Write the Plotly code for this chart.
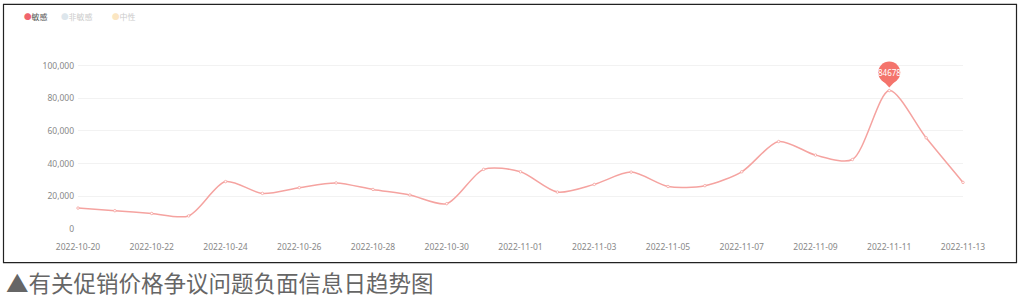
import plotly.graph_objects as go

dates = ["2022-10-20", "2022-10-21", "2022-10-22", "2022-10-23", "2022-10-24",
         "2022-10-25", "2022-10-26", "2022-10-27", "2022-10-28", "2022-10-29",
         "2022-10-30", "2022-10-31", "2022-11-01", "2022-11-02", "2022-11-03",
         "2022-11-04", "2022-11-05", "2022-11-06", "2022-11-07", "2022-11-08",
         "2022-11-09", "2022-11-10", "2022-11-11", "2022-11-12", "2022-11-13"]
sensitive = [12800, 11200, 9500, 8000, 29000,
             21800, 25300, 28200, 24200, 20800,
             15500, 36500, 35000, 22600, 27300,
             34800, 26000, 26500, 35000, 53500,
             45200, 42500, 84678, 55800, 28500]
legend_names = ["敏感", "非敏感", "中性"]
legend_colors = ["#f0646e", "#dde6ec", "#fbe6c2"]
legend_text_colors = ["#555555", "#cccccc", "#cccccc"]
caption = "▲有关促销价格争议问题负面信息日趋势图"

W, H = 1024, 298
L, R = 78, 61
PLOT_BOTTOM = 229
Y_TOP_VAL = 104000
PX_PER_100K = 163.3
plot_h = PX_PER_100K * Y_TOP_VAL / 100000
T = PLOT_BOTTOM - plot_h
B = H - PLOT_BOTTOM
plot_w = W - L - R

def px_x(px):
    return (px - L) / plot_w

def px_y(py):
    return (PLOT_BOTTOM - py) / plot_h

line_color = "#f5a3a0"
pin_color = "#f4746c"

fig = go.Figure()
fig.add_trace(go.Scatter(
    x=dates, y=sensitive, mode="lines+markers", name="敏感",
    line=dict(color=line_color, width=1.5, shape="spline", smoothing=0.8),
    marker=dict(size=2.5, color="white", line=dict(color=line_color, width=0.8)),
    showlegend=False, cliponaxis=False,
))

# peak pin
peak_i = max(range(len(sensitive)), key=lambda i: sensitive[i])
px_, py_ = dates[peak_i], sensitive[peak_i]
fig.add_shape(type="path", xref="x", yref="y", xsizemode="pixel", ysizemode="pixel",
              xanchor=px_, yanchor=py_, path="M -7.5,11 L 0,3 L 7.5,11 Z",
              fillcolor=pin_color, line=dict(width=0), layer="above")
fig.add_shape(type="circle", xref="x", yref="y", xsizemode="pixel", ysizemode="pixel",
              xanchor=px_, yanchor=py_, x0=-11, x1=11, y0=7, y1=29,
              fillcolor=pin_color, line=dict(width=0), layer="above")
fig.add_annotation(x=px_, y=py_, yshift=18, text=str(py_), showarrow=False,
                   font=dict(size=8, color="white", family="Noto Sans"))

# legend (drawn as text)
leg_x = [22, 59, 110]
for name, c, tc, lx in zip(legend_names, legend_colors, legend_text_colors, leg_x):
    fig.add_annotation(xref="paper", yref="paper", x=px_x(lx), y=px_y(17),
                       xanchor="left", yanchor="middle", showarrow=False,
                       text=f"<span style='color:{c}; font-size:7.5px'>●</span><span style='color:{tc}'>{name}</span>",
                       font=dict(size=8, family="Noto Sans CJK SC"))

# caption
fig.add_annotation(xref="paper", yref="paper", x=px_x(4), y=px_y(282),
                   xanchor="left", yanchor="middle", showarrow=False,
                   text=caption, font=dict(size=22.5, color="#666666", family="Noto Sans CJK SC"))

# outer border
fig.add_shape(type="rect", xref="paper", yref="paper",
              x0=px_x(3.5), x1=px_x(1016.5), y0=px_y(262.5), y1=px_y(4.5),
              line=dict(color="#222222", width=1.2), fillcolor="rgba(0,0,0,0)")

fig.update_layout(
    width=W, height=H, margin=dict(l=L, r=R, t=T, b=B),
    paper_bgcolor="white", plot_bgcolor="white",
    font=dict(family="Noto Sans", color="#777777"),
    showlegend=False,
)
fig.update_xaxes(type="date", range=[dates[0], dates[-1]], tick0=dates[0],
                 dtick=2 * 86400000, tickformat="%Y-%m-%d", showgrid=False,
                 zeroline=False, showline=False, ticks="",
                 tickfont=dict(size=8.5, color="#888888"), ticklabelstandoff=11)
fig.update_yaxes(range=[0, Y_TOP_VAL], tickvals=[0, 20000, 40000, 60000, 80000, 100000],
                 tickformat=",d", showgrid=True, gridcolor="#f2f2f2", gridwidth=1,
                 zeroline=False, showline=False, ticks="",
                 tickfont=dict(size=8.5, color="#888888"), ticklabelstandoff=3)

fig.write_html("out.html")
